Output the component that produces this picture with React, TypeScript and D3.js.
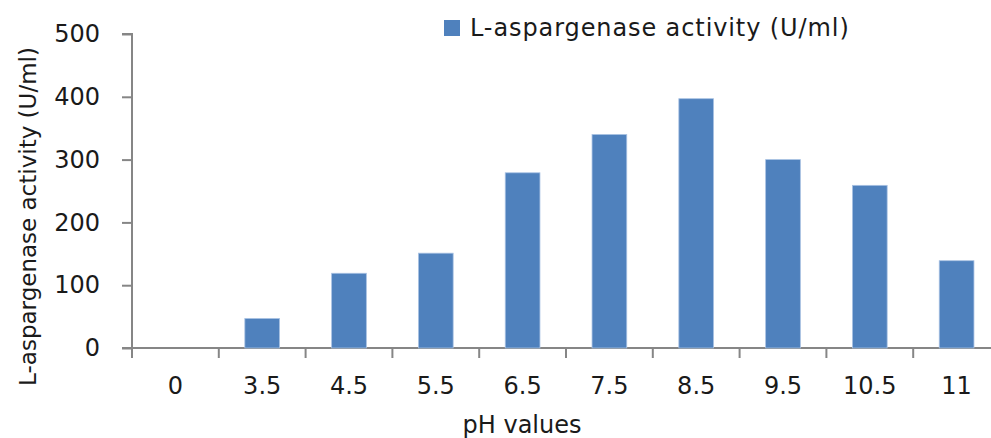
import { useRef, useEffect } from "react";
import * as d3 from "d3";

const categories = ["0", "3.5", "4.5", "5.5", "6.5", "7.5", "8.5", "9.5", "10.5", "11"];
const activity = [0, 47, 119, 151, 279, 340, 397, 300, 259, 139];
const yTicks = [0, 100, 200, 300, 400, 500];

const seriesName = "L-aspargenase activity (U/ml)";
const yTitle = "L-aspargenase activity (U/ml)";
const xTitle = "pH values";

const W = 991;
const H = 438;
const FONT = "'DejaVu Sans', Verdana, sans-serif";
const BAR = "#4F81BD";
const AXIS = "#868686";
const INK = "#1a1a1a";

export default function App() {
  const svgRef = useRef<SVGSVGElement>(null);

  useEffect(() => {
    const svg = d3.select(svgRef.current);
    svg.selectAll("*").remove();

    // scales
    const x = d3.scaleBand().domain(categories).range([132, 1000]).paddingInner(0.6).paddingOuter(0.3);
    const y = d3.scaleLinear().domain([0, 500]).range([348, 34]);

    // y axis
    const yAxis = svg.append("g").attr("transform", "translate(132,0)")
      .call(d3.axisLeft(y).tickValues(yTicks).tickSize(10).tickPadding(22));
    yAxis.select(".domain").attr("stroke", AXIS).attr("stroke-width", 2)
      .attr("d", `M-10,${y(500)}H0V${y(0)}`);
    yAxis.selectAll(".tick line").attr("stroke", AXIS).attr("stroke-width", 2);
    yAxis.selectAll(".tick text")
      .attr("font-family", FONT).attr("font-size", 24).attr("fill", INK);

    // x axis, ticks on the band edges
    const step = x.step();
    const x0 = 132;
    const xAxisG = svg.append("g").attr("transform", `translate(0,${y(0)})`);
    xAxisG.append("line").attr("x1", 122).attr("x2", W).attr("y1", 0).attr("y2", 0)
      .attr("stroke", AXIS).attr("stroke-width", 2);
    xAxisG.selectAll(".xt").data(d3.range(categories.length + 1)).join("line")
      .attr("class", "xt")
      .attr("x1", (i) => x0 + i * step).attr("x2", (i) => x0 + i * step)
      .attr("y1", 0).attr("y2", 10)
      .attr("stroke", AXIS).attr("stroke-width", 2);
    xAxisG.selectAll(".xl").data(categories).join("text")
      .attr("class", "xl")
      .attr("x", (d) => x(d)! + x.bandwidth() / 2)
      .attr("y", 46)
      .attr("text-anchor", "middle")
      .attr("font-family", FONT).attr("font-size", 24).attr("fill", INK)
      .text((d) => d);

    // bars
    svg.append("g").selectAll("rect").data(categories).join("rect")
      .attr("x", (d) => x(d)!)
      .attr("width", x.bandwidth())
      .attr("y", (d, i) => y(activity[i]))
      .attr("height", (d, i) => y(0) - y(activity[i]))
      .attr("fill", BAR)
      .attr("stroke", "#a9c2e3").attr("stroke-width", 0.8);

    // titles
    svg.append("text")
      .attr("transform", `translate(36,${(48 + 385) / 2}) rotate(-90)`)
      .attr("text-anchor", "middle")
      .attr("font-family", FONT).attr("font-size", 23).attr("fill", INK)
      .text(yTitle);
    svg.append("text")
      .attr("x", 522).attr("y", 433)
      .attr("text-anchor", "middle")
      .attr("font-family", FONT).attr("font-size", 24).attr("fill", INK)
      .text(xTitle);

    // legend
    const lg = svg.append("g").attr("transform", "translate(444,20)");
    lg.append("rect").attr("width", 16).attr("height", 16).attr("fill", BAR);
    lg.append("text").attr("x", 26).attr("y", 16)
      .attr("font-family", FONT).attr("font-size", 24).attr("fill", INK)
      .attr("letter-spacing", 0.9)
      .text(seriesName);
  }, []);

  return (
    <svg ref={svgRef} width={W} height={H}
      style={{ position: "absolute", left: 0, top: 0, background: "#fff" }} />
  );
}
